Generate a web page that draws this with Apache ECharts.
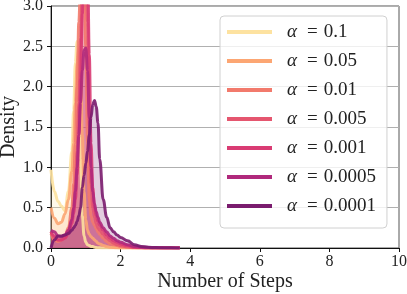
<!DOCTYPE html>
<html><head><meta charset="utf-8">
<script src="https://cdn.jsdelivr.net/npm/echarts@6/dist/echarts.min.js"></script>
<style>html,body{margin:0;padding:0;background:#fff}#c{width:407px;height:294px}</style>
</head><body><div id="c"></div>
<script>
const xs = [0,0.1,0.2,0.3,0.4,0.5,0.6,0.65,0.7,0.75,0.8,0.85,0.9,0.95,1.0,1.05,1.1,1.15,1.2,1.25,1.3,1.35,1.4,1.5,1.6,1.7,1.8,1.9,2.0,2.2,2.4,2.6,2.8,3.0,3.3,3.6,3.7];
const alphas = ['0.1','0.05','0.01','0.005','0.001','0.0005','0.0001'];
const labels = alphas.map(a=>'α = '+a);
const colors = ['#fde2a0','#fca673','#f27a6c','#e5566f','#d93b73','#b0297c','#7a1c6e'];
const yA01    = [0.97,0.70,0.58,0.52,0.46,0.70,1.20,1.70,2.30,2.56,2.10,1.10,0.40,0.15,0.07,0.04,0.03,0.02,0.02,0.01,0.005,0.003,0.002,0.001,0,0,0,0,0,0,0,0,0,0,0,0,0];
const yA005   = [0.50,0.37,0.30,0.32,0.42,0.60,0.95,1.30,1.80,2.30,2.47,2.20,1.40,0.70,0.35,0.22,0.17,0.14,0.12,0.10,0.08,0.06,0.05,0.03,0.02,0.01,0.005,0.002,0.001,0,0,0,0,0,0,0,0];
const yA001   = [0.18,0.10,0.08,0.10,0.15,0.25,0.50,0.80,1.30,2.00,2.80,3.30,3.60,3.40,2.50,1.30,0.60,0.40,0.32,0.28,0.24,0.20,0.17,0.12,0.08,0.05,0.04,0.03,0.02,0.01,0.004,0.002,0,0,0,0,0];
const yA0005  = [0.20,0.12,0.10,0.10,0.13,0.20,0.35,0.50,0.80,1.20,1.80,2.60,3.30,3.90,3.80,2.80,1.50,0.80,0.50,0.38,0.30,0.25,0.22,0.17,0.12,0.09,0.06,0.04,0.03,0.015,0.005,0.002,0,0,0,0,0];
const yA0001a = [0.20,0.15,0.10,0.10,0.12,0.18,0.30,0.42,0.60,0.90,1.40,2.10,2.90,3.60,4.00,3.60,2.40,1.30,0.75,0.50,0.40,0.33,0.28,0.22,0.16,0.12,0.09,0.07,0.05,0.03,0.01,0.005,0.002,0,0,0,0];
const yA00005 = [0.22,0.20,0.15,0.14,0.16,0.22,0.35,0.50,0.70,1.00,1.40,1.80,2.20,2.45,2.48,2.20,1.60,1.00,0.70,0.55,0.45,0.38,0.32,0.25,0.20,0.15,0.12,0.09,0.07,0.04,0.02,0.01,0.005,0.003,0.001,0,0];
const yA00001 = [0.00,0.10,0.15,0.15,0.16,0.18,0.22,0.25,0.28,0.33,0.40,0.50,0.75,0.90,1.05,1.20,1.40,1.62,1.78,1.83,1.75,1.55,1.10,0.60,0.38,0.25,0.20,0.16,0.13,0.09,0.04,0.02,0.01,0.005,0.003,0.001,0];
const ySeries = [yA01,yA005,yA001,yA0005,yA0001a,yA00005,yA00001];
const xTicks = [0,2,4,6,8,10];
const yTicks = [0,0.5,1.0,1.5,2.0,2.5,3.0];

const font = 'Liberation Serif';
const chart = echarts.init(document.getElementById('c'), null, {renderer:'canvas'});
const series = ySeries.map((ys,i)=>({
  name: labels[i], type:'line', smooth:0.4, smoothMonotone:'x', showSymbol:false, symbol:'none',
  data: xs.map((x,j)=>[x,ys[j]]),
  lineStyle:{color:colors[i], width:3, opacity:0.9},
  itemStyle:{color:colors[i]},
  areaStyle:{color:colors[i], opacity:0.22},
  clip:true
}));
const lh = 20;
chart.setOption({
  animation:false,
  textStyle:{fontFamily:font},
  grid:{left:51,right:8,top:6,bottom:46,containLabel:false,outerBoundsMode:'none',show:true,borderColor:'#555',borderWidth:1},
  xAxis:{type:'value',min:xTicks[0],max:xTicks[xTicks.length-1],interval:2,
    name:'Number of Steps',nameLocation:'middle',nameGap:24,nameMoveOverlap:false,
    nameTextStyle:{fontFamily:font,fontSize:20,color:'#222'},
    axisLine:{lineStyle:{color:'#111',width:1}},
    axisTick:{show:true,length:4,lineStyle:{color:'#111'}},
    axisLabel:{fontFamily:font,fontSize:16,color:'#222',margin:6},
    splitLine:{show:false}},
  yAxis:{type:'value',min:yTicks[0],max:yTicks[yTicks.length-1],interval:0.5,
    name:'Density',nameLocation:'middle',nameGap:32,nameRotate:90,nameMoveOverlap:false,
    nameTextStyle:{fontFamily:font,fontSize:20,color:'#222'},
    axisLine:{show:true,lineStyle:{color:'#111',width:1}},
    axisTick:{show:true,length:4,lineStyle:{color:'#111'}},
    axisLabel:{fontFamily:font,fontSize:16,color:'#222',margin:8,formatter:v=>v.toFixed(1)},
    splitLine:{show:true,lineStyle:{color:'#b0b0b0',width:1}}},
  legend:{orient:'vertical',left:220,top:16,
    data:labels,icon:'rect',itemWidth:45,itemHeight:4,itemGap:9,
    padding:[6,11,12,7],
    backgroundColor:'rgba(255,255,255,0.8)',borderColor:'#d0d0d0',borderWidth:1,borderRadius:4,
    formatter:name=>'{a|α}{e|=}{n|'+name.slice(4)+'}',
    textStyle:{fontFamily:font,fontSize:19,color:'#222',lineHeight:lh,
      rich:{a:{fontFamily:font,fontSize:19,fontStyle:'italic',color:'#222',lineHeight:lh,padding:[0,0,0,10]},
            e:{fontFamily:font,fontSize:19,color:'#222',lineHeight:lh,padding:[0,6,0,10]},
            n:{fontFamily:font,fontSize:19,color:'#222',lineHeight:lh}}}},
  series:series
});
</script></body></html>
